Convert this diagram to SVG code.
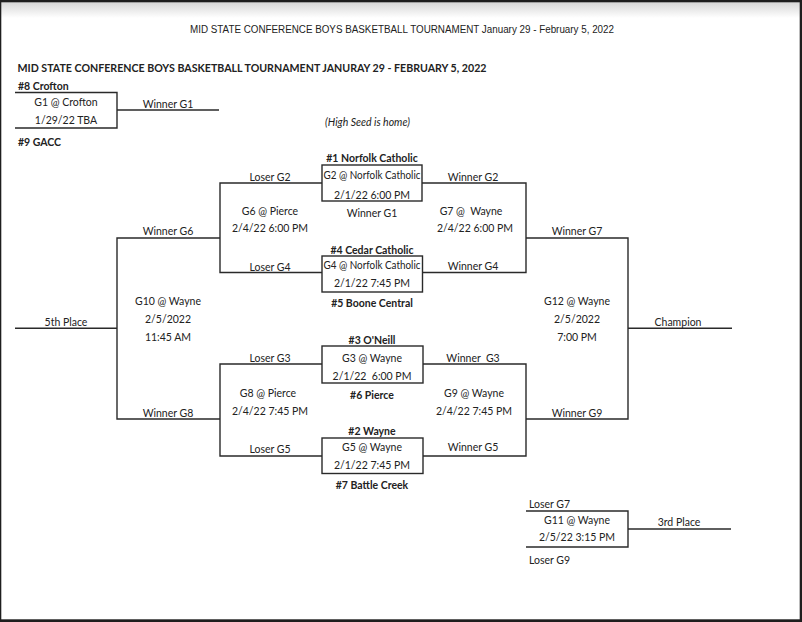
<svg xmlns="http://www.w3.org/2000/svg" width="802" height="622" viewBox="0 0 802 622">
<defs>
<linearGradient id="topshade" x1="0" y1="0" x2="0" y2="1">
<stop offset="0" stop-color="#d6d6d6"/>
<stop offset="1" stop-color="#ffffff"/>
</linearGradient>
<style>
text{font-family:Lato,"Liberation Sans",sans-serif;font-size:10.5px;fill:#222;text-anchor:middle;white-space:pre}
.b{font-weight:bold}
.l{text-anchor:start}
.i{font-style:italic}
.hd{font-family:"Liberation Sans",Arial,sans-serif;font-size:10px}
.ttl{font-size:11px;font-weight:bold;text-anchor:start}
.ln{fill:none;stroke:#2a2a2a;stroke-width:1.4}
</style>
</defs>
<rect x="0" y="0" width="802" height="622" fill="#ffffff"/>
<rect x="0" y="2" width="802" height="16" fill="url(#topshade)"/>
<rect x="0" y="0" width="802" height="2.3" fill="#1e1e1e"/>
<rect x="0" y="0" width="1.3" height="622" fill="#1e1e1e"/>
<rect x="799.7" y="0" width="2.3" height="622" fill="#1e1e1e"/>
<rect x="0" y="619.3" width="802" height="2.7" fill="#1e1e1e"/>

<text class="hd" x="402" y="32.5" textLength="424" lengthAdjust="spacingAndGlyphs">MID STATE CONFERENCE BOYS BASKETBALL TOURNAMENT January 29 - February 5, 2022</text>
<text class="ttl" x="17.5" y="71.8" textLength="469" lengthAdjust="spacingAndGlyphs">MID STATE CONFERENCE BOYS BASKETBALL TOURNAMENT JANURAY 29 - FEBRUARY 5, 2022</text>
<text class="i" x="367.5" y="125.7">(High Seed is home)</text>

<g id="connectors">
<path class="ln" d="M117,110 H219"/>
<path class="ln" d="M322,183 H220 V272.5 H322"/>
<path class="ln" d="M422,183 H526 V272.5 H422"/>
<path class="ln" d="M322,364 H220 V456 H322"/>
<path class="ln" d="M423,364 H526 V456 H423"/>
<path class="ln" d="M220,238 H117 V419 H220"/>
<path class="ln" d="M117,328.3 H15"/>
<path class="ln" d="M526,238 H628 V419 H526"/>
<path class="ln" d="M628,328.3 H732"/>
<path class="ln" d="M628,529 H731"/>
</g>

<g id="g1">
<text class="b l" x="18" y="89.5">#8 Crofton</text>
<path class="ln" d="M15,92.5 H117 V128 H15"/>
<text x="66" y="105.5">G1 @ Crofton</text>
<text x="66" y="123.5">1/29/22 TBA</text>
<text class="b l" x="18" y="145.5">#9 GACC</text>
<text x="168" y="108.3">Winner G1</text>
</g>

<g id="g2">
<text class="b" x="372" y="161.8">#1 Norfolk Catholic</text>
<rect class="ln" x="322" y="165" width="100" height="36"/>
<text x="372" y="178.8" textLength="97" lengthAdjust="spacingAndGlyphs">G2 @ Norfolk Catholic</text>
<text x="372" y="198.5">2/1/22 6:00 PM</text>
<text x="270" y="180.5">Loser G2</text>
<text x="473" y="180.5">Winner G2</text>
<text x="372" y="216.5">Winner G1</text>
</g>

<g id="g4">
<text class="b" x="372" y="253.5">#4 Cedar Catholic</text>
<rect class="ln" x="322" y="256" width="100.5" height="36"/>
<text x="372" y="268.7" textLength="97" lengthAdjust="spacingAndGlyphs">G4 @ Norfolk Catholic</text>
<text x="372" y="287">2/1/22 7:45 PM</text>
<text class="b" x="372" y="307">#5 Boone Central</text>
<text x="270" y="270.6">Loser G4</text>
<text x="473" y="270">Winner G4</text>
</g>

<g id="g6">
<text x="270" y="214.7">G6 @ Pierce</text>
<text x="270" y="232">2/4/22 6:00 PM</text>
<text x="168" y="235.3">Winner G6</text>
</g>

<g id="g7">
<text x="471" y="214.7">G7 @  Wayne</text>
<text x="475" y="232">2/4/22 6:00 PM</text>
<text x="577" y="235.3">Winner G7</text>
</g>

<g id="g3">
<text class="b" x="372" y="343.7">#3 O'Neill</text>
<rect class="ln" x="322" y="346" width="101" height="37"/>
<text x="372" y="361.8">G3 @ Wayne</text>
<text x="372" y="380.3">2/1/22  6:00 PM</text>
<text class="b" x="372" y="398.7">#6 Pierce</text>
<text x="270" y="361.6">Loser G3</text>
<text x="473" y="361.6">Winner  G3</text>
</g>

<g id="g5">
<text class="b" x="372" y="434.7">#2 Wayne</text>
<rect class="ln" x="322" y="438" width="101" height="35.5"/>
<text x="372" y="451">G5 @ Wayne</text>
<text x="372" y="468.7">2/1/22 7:45 PM</text>
<text class="b" x="372" y="488.7">#7 Battle Creek</text>
<text x="270" y="452.7">Loser G5</text>
<text x="473" y="450.7">Winner G5</text>
</g>

<g id="g8">
<text x="268" y="397">G8 @ Pierce</text>
<text x="270" y="414.7">2/4/22 7:45 PM</text>
<text x="168" y="416.8">Winner G8</text>
</g>

<g id="g9">
<text x="474" y="397">G9 @ Wayne</text>
<text x="474" y="414.7">2/4/22 7:45 PM</text>
<text x="577" y="416.8">Winner G9</text>
</g>

<g id="g10">
<text x="168" y="305.3">G10 @ Wayne</text>
<text x="168" y="323">2/5/2022</text>
<text x="168" y="341">11:45 AM</text>
<text x="66" y="326.1">5th Place</text>
</g>

<g id="g12">
<text x="577" y="305.3">G12 @ Wayne</text>
<text x="577" y="323">2/5/2022</text>
<text x="577" y="341">7:00 PM</text>
<text x="678" y="326.1">Champion</text>
</g>

<g id="g11">
<text class="l" x="529" y="507.5">Loser G7</text>
<path class="ln" d="M526,511 H628 V547 H526"/>
<text x="577" y="523.5">G11 @ Wayne</text>
<text x="577" y="541.3">2/5/22 3:15 PM</text>
<text x="679" y="526.3">3rd Place</text>
<text class="l" x="529" y="563.5">Loser G9</text>
</g>
</svg>
